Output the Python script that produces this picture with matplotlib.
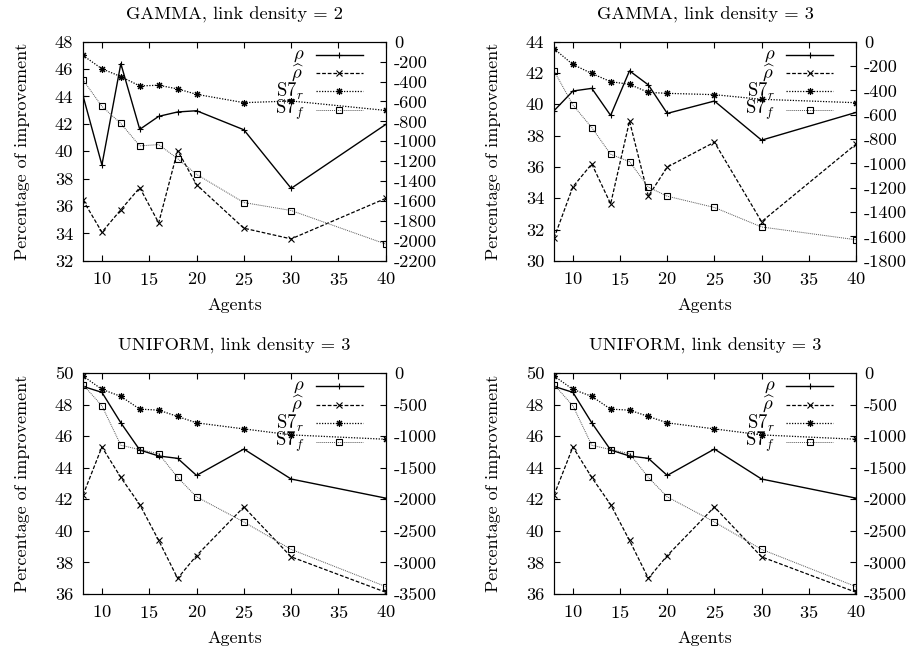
import matplotlib
matplotlib.use("Agg")
import matplotlib.pyplot as plt

plt.rcParams['font.family'] = 'cmr10'
plt.rcParams['mathtext.fontset'] = 'cm'
plt.rcParams['axes.unicode_minus'] = False
plt.rcParams['axes.formatter.use_mathtext'] = True
plt.rcParams['font.size'] = 13.3

agents = [8, 10, 12, 14, 16, 18, 20, 25, 30, 40]

# GAMMA, link density = 2
g2_rho = [44.06, 39.0, 46.4, 41.6, 42.55, 42.87, 42.96, 41.57, 37.29, 41.96]
g2_rhohat = [36.43, 34.09, 35.73, 37.34, 34.77, 40.05, 37.56, 34.38, 33.6, 36.56]
g2_s7r = [-138, -272, -350, -444, -437, -474, -528, -612, -595, -690]
g2_s7f = [-383, -649, -821, -1046, -1033, -1174, -1332, -1615, -1695, -2032]

# GAMMA, link density = 3
g3_rho = [39.59, 40.85, 41.02, 39.29, 42.14, 41.24, 39.42, 40.21, 37.71, 39.48]
g3_rhohat = [31.45, 34.73, 36.19, 33.64, 38.93, 34.13, 35.99, 37.58, 32.5, 37.45]
g3_s7r = [-58, -187, -261, -328, -350, -416, -424, -435, -473, -501]
g3_s7f = [-239, -520, -705, -925, -985, -1195, -1269, -1362, -1522, -1627]

# UNIFORM, link density = 3
u3_rho = [49.15, 48.77, 46.84, 45.12, 44.74, 44.59, 43.51, 45.18, 43.28, 42.07]
u3_rhohat = [42.26, 45.31, 43.38, 41.66, 39.39, 36.99, 38.43, 41.51, 38.35, 36.11]
u3_s7r = [-48, -260, -371, -573, -589, -689, -790, -886, -981, -1050]
u3_s7f = [-186, -520, -1145, -1214, -1278, -1655, -1962, -2360, -2794, -3383]

panels = [
    ("GAMMA, link density = 2", g2_rho, g2_rhohat, g2_s7r, g2_s7f,
     list(range(32, 49, 2)), list(range(-2200, 1, 200))),
    ("GAMMA, link density = 3", g3_rho, g3_rhohat, g3_s7r, g3_s7f,
     list(range(30, 45, 2)), list(range(-1800, 1, 200))),
    ("UNIFORM, link density = 3", u3_rho, u3_rhohat, u3_s7r, u3_s7f,
     list(range(36, 51, 2)), list(range(-3500, 1, 500))),
    ("UNIFORM, link density = 3", u3_rho, u3_rhohat, u3_s7r, u3_s7f,
     list(range(36, 51, 2)), list(range(-3500, 1, 500))),
]

positions = [
    [0.091, 0.600, 0.332, 0.336],
    [0.6075, 0.600, 0.331, 0.336],
    [0.091, 0.089, 0.332, 0.339],
    [0.6075, 0.089, 0.331, 0.339],
]

styles = [
    dict(color='black', lw=1.0, ls='-', marker='+', ms=5, mew=0.8),
    dict(color='black', lw=0.9, ls=(0, (3, 1.5)), marker='x', ms=4, mew=0.8),
    dict(color='black', lw=0.9, ls=(0, (1, 1.2)), marker=(8, 2, 0), ms=5, mew=0.8),
    dict(color='#555555', lw=0.7, ls=(0, (1, 1)), marker='s', ms=4, mew=0.8,
         mfc='none', mec='black'),
]
labels = [r'$\rho$', r'$\widehat{\rho}$', r'S7$_r$', r'S7$_f$']

fig = plt.figure(figsize=(9.12, 6.52), dpi=100)

for pos, (title, rho, rhohat, s7r, s7f, lticks, rticks) in zip(positions, panels):
    ax = fig.add_axes(pos)
    ax2 = ax.twinx()
    series = [(ax, rho), (ax, rhohat), (ax2, s7r), (ax2, s7f)]
    for (a, vals), st in zip(series, styles):
        a.plot(agents, vals, **st)

    ax.set_xlim(8, 40)
    ax.set_ylim(lticks[0], lticks[-1])
    ax2.set_ylim(rticks[0], rticks[-1])
    ax.set_xticks([10, 15, 20, 25, 30, 35, 40])
    ax.set_yticks(lticks)
    ax.set_yticklabels([str(v) for v in lticks])
    ax2.set_yticks(rticks)
    ax2.set_yticklabels([str(v) for v in rticks])
    ax.tick_params(axis='x', direction='in', top=True, length=4, width=0.8, pad=7)
    ax.tick_params(axis='y', direction='in', right=False, length=4, width=0.8, pad=7)
    ax2.tick_params(axis='y', direction='in', length=4, width=0.8, pad=6)
    ax.set_title(title, fontsize=13.3, pad=16)
    ax.set_xlabel("Agents", fontsize=13, labelpad=7)
    ax.set_ylabel("Percentage of improvement", fontsize=13, labelpad=18)

    # gnuplot-style key: text right-aligned, sample to its right
    for i, (lab, st) in enumerate(zip(labels, styles)):
        y = 0.941 - i * 0.084
        ax.text(0.732, y, lab, transform=ax.transAxes, ha='right', va='center', fontsize=13.5)
        st2 = dict(st)
        st2.pop('marker'); st2.pop('ms'); st2.pop('mew')
        st2.pop('mfc', None); st2.pop('mec', None)
        ax.plot([0.769, 0.924], [y, y], transform=ax.transAxes, clip_on=False, **st2)
        ax.plot([0.8465], [y], transform=ax.transAxes, clip_on=False, ls='none',
                marker=st['marker'], ms=st['ms'], mew=st['mew'],
                mfc=st.get('mfc', 'black'), mec=st.get('mec', 'black'), color='black')

fig.savefig("out.png", dpi=100)
